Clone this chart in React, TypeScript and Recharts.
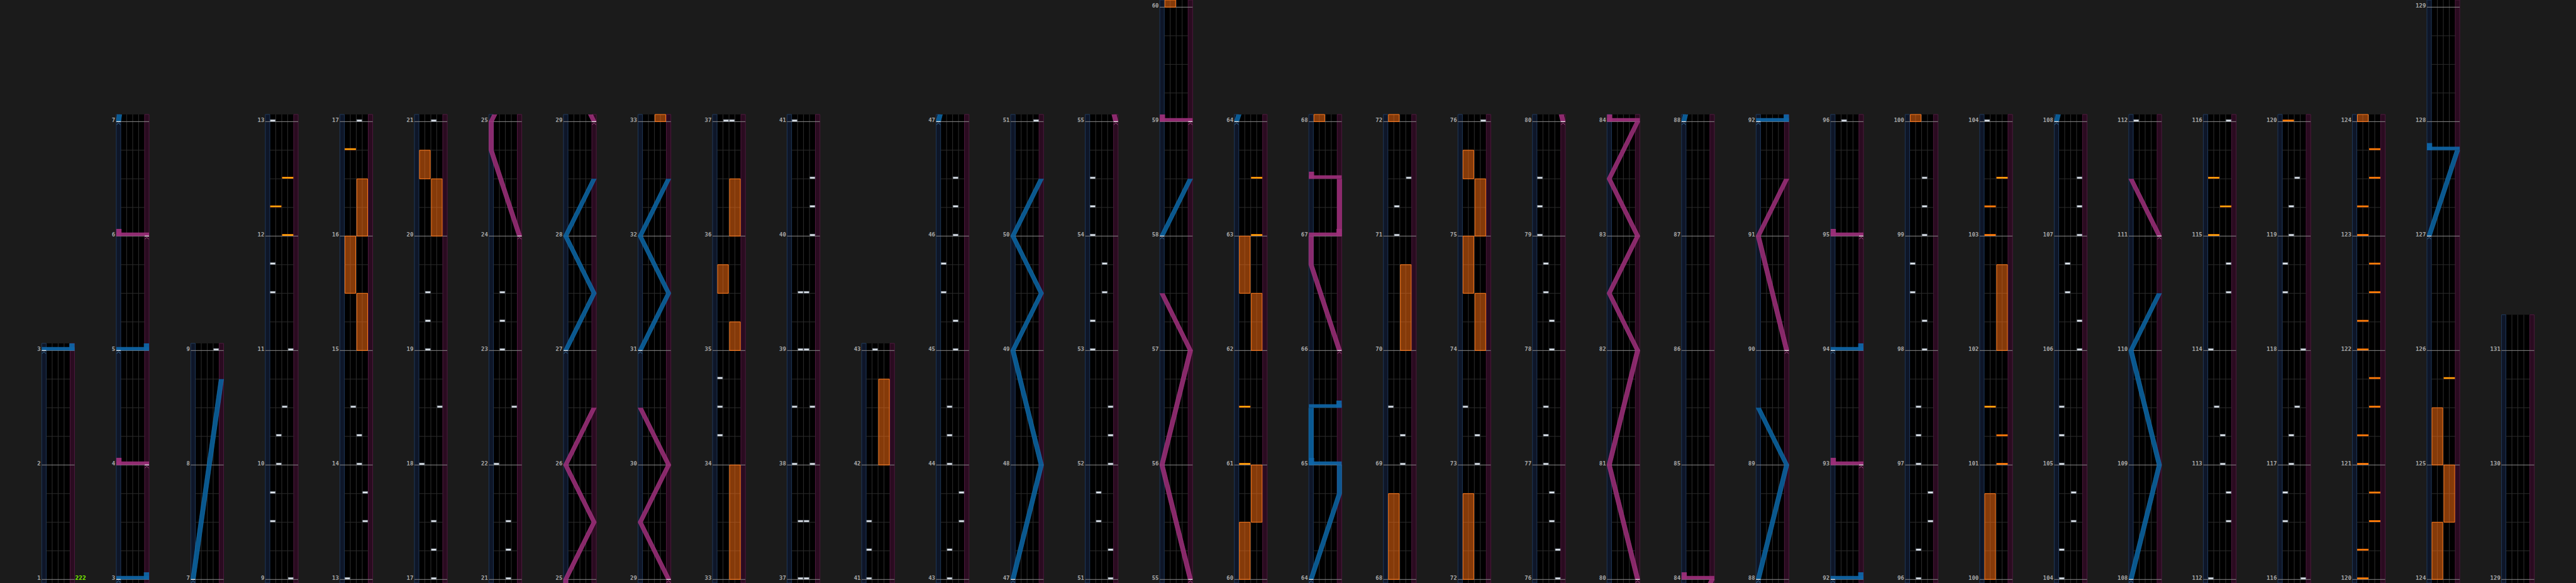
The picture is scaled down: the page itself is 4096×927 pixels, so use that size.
import React from 'react';
import { ComposedChart, XAxis, YAxis, ReferenceArea, ReferenceLine, Scatter, Area } from 'recharts';

const W = 4096;
const H = 927;
const S = 0.948;

// first measure and measure count of every column
const columnStarts = [1, 3, 7, 9, 13, 17, 21, 25, 29, 33, 37, 41, 43, 47, 51, 55, 60, 64, 68, 72, 76, 80, 84, 88, 92, 96, 100, 104, 108, 112, 116, 120, 124, 129];
const columnLengths = [2, 4, 2, 4, 4, 4, 4, 4, 4, 4, 4, 2, 4, 4, 4, 5, 4, 4, 4, 4, 4, 4, 4, 4, 4, 4, 4, 4, 4, 4, 4, 4, 5, 2];
const bpmText = '222';

// BT chips: [measure, lane]
const btChips: [number, string][] = [
  [9, 'D'], [9.5, 'A'], [9.75, 'A'], [10, 'B'], [10.25, 'B'], [10.5, 'C'], [11, 'D'], [11.5, 'A'], [11.75, 'A'], [13, 'A'],
  [13.5, 'D'], [13.75, 'D'], [14, 'C'], [14.25, 'C'], [14.5, 'B'], [17, 'C'],
  [17.25, 'C'], [17.5, 'C'], [18, 'A'], [18.5, 'D'], [19, 'B'], [19.25, 'B'], [19.5, 'B'], [21, 'C'],
  [21.25, 'C'], [21.5, 'C'], [22, 'A'], [22.5, 'D'], [23, 'B'], [23.25, 'B'], [23.5, 'B'],
  [34.25, 'A'], [34.5, 'A'], [34.75, 'A'], [37, 'B'], [37, 'C'],
  [37.5, 'B'], [37.5, 'C'], [38, 'A'], [38, 'D'], [38.5, 'A'], [38.5, 'D'], [39, 'B'], [39, 'C'], [39.5, 'B'], [39.5, 'C'],
  [40, 'D'], [40.25, 'D'], [40.5, 'D'], [41, 'A'],
  [41.25, 'A'], [41.5, 'A'], [43, 'B'],
  [43.25, 'B'], [43.5, 'D'], [43.75, 'D'], [44, 'B'], [44.25, 'B'], [44.5, 'B'], [45, 'C'], [45.25, 'C'], [45.5, 'A'], [45.75, 'A'],
  [46, 'C'], [46.25, 'C'], [46.5, 'C'],
  [51, 'D'], [51.25, 'D'], [51.5, 'B'], [51.75, 'B'], [52, 'D'], [52.25, 'D'], [52.5, 'D'], [53, 'A'], [53.25, 'A'], [53.5, 'C'],
  [53.75, 'C'], [54, 'A'], [54.25, 'A'], [54.5, 'A'],
  [69, 'C'], [69.25, 'C'], [69.5, 'A'], [71, 'B'], [71.25, 'B'], [71.5, 'D'],
  [73, 'C'], [73.25, 'C'], [73.5, 'A'], [76, 'D'],
  [76.25, 'D'], [76.5, 'C'], [76.75, 'C'], [77, 'B'], [77.25, 'B'], [77.5, 'B'], [78, 'C'], [78.25, 'C'], [78.5, 'B'], [78.75, 'B'],
  [79, 'A'], [79.25, 'A'], [79.5, 'A'],
  [96, 'B'], [96.25, 'B'], [96.5, 'D'], [96.75, 'D'], [97, 'B'], [97.25, 'B'], [97.5, 'B'], [98, 'C'], [98.25, 'C'], [98.5, 'A'],
  [98.75, 'A'], [99, 'C'], [99.25, 'C'], [99.5, 'C'],
  [104, 'A'], [104.25, 'A'], [104.5, 'C'], [104.75, 'C'], [105, 'A'], [105.25, 'A'], [105.5, 'A'], [106, 'D'], [106.25, 'D'],
  [106.5, 'B'], [106.75, 'B'], [107, 'D'], [107.25, 'D'], [107.5, 'D'],
  [112, 'A'], [112.5, 'D'], [112.75, 'D'], [113, 'C'], [113.25, 'C'], [113.5, 'B'], [114, 'A'], [114.5, 'D'], [114.75, 'D'], [116, 'D'],
  [116.5, 'A'], [116.75, 'A'], [117, 'B'], [117.25, 'B'], [117.5, 'C'], [118, 'D'], [118.5, 'A'], [118.75, 'A'], [119, 'B'],
  [119.25, 'B'], [119.5, 'C'],
];

// FX chips: [measure, side, yellow]
const fxChips: [number, string, number][] = [
  [12, 'R', 1], [12.25, 'L', 1], [12.5, 'R', 1], [16.75, 'L', 1],
  [61, 'L', 1], [61.5, 'L', 1], [63, 'R', 1], [63.5, 'R', 1],
  [101, 'R', 0], [101.25, 'R', 0], [101.5, 'L', 1], [103, 'L', 0], [103.25, 'L', 0], [103.5, 'R', 1],
  [115, 'L', 1], [115.25, 'R', 1], [115.5, 'L', 1],
  [120, 'L', 0], [120.25, 'L', 0], [120.5, 'R', 0], [120.75, 'R', 0], [121, 'L', 0], [121.25, 'L', 0], [121.5, 'R', 0], [121.75, 'R', 0],
  [122, 'L', 0], [122.25, 'L', 0], [122.5, 'R', 0], [122.75, 'R', 0], [123, 'L', 0], [123.25, 'L', 0], [123.5, 'R', 0], [123.75, 'R', 0],
  [125.75, 'R', 1],
];

// FX holds: [from, to, side]
const fxHolds: [number, number, string][] = [
  [15, 15.5, 'R'], [15.5, 16, 'L'], [16, 16.5, 'R'], [20, 20.5, 'R'], [20.5, 20.75, 'L'],
  [33, 34, 'R'], [35, 35.25, 'R'], [35.5, 35.75, 'L'], [36, 36.5, 'R'], [42, 42.75, 'R'],
  [60, 60.5, 'L'], [60.5, 61, 'R'], [62, 62.5, 'R'], [62.5, 63, 'L'],
  [68, 68.75, 'L'], [70, 70.75, 'R'], [72, 72.75, 'L'], [74, 74.5, 'R'], [74.5, 75, 'L'], [75, 75.5, 'R'], [75.5, 75.75, 'L'],
  [100, 100.75, 'L'], [102, 102.75, 'R'], [124, 124.5, 'L'], [124.5, 125, 'R'], [125, 125.5, 'L'],
];

// laser paths: [measure, position 0..1]
const blueLasers: [number, number][][] = [
  [[7, 0], [8.75, 1]],
  [[27, 0], [27.5, 1], [28, 0], [28.5, 1]],
  [[31, 0], [31.5, 1], [32, 0], [32.5, 1]],
  [[47, 0], [48, 1], [49, 0], [49.5, 1], [50, 0], [50.5, 1]],
  [[58, 0], [58.5, 1]],
  [[64, 0], [64.75, 1], [65, 1]],
  [[65, 0], [65.5, 0]],
  [[88, 0], [89, 1], [89.5, 0]],
  [[108, 0], [109, 1], [110, 0], [110.5, 1]],
  [[127, 0], [127.75, 1]],
];
const pinkLasers: [number, number][][] = [
  [[24, 1], [24.75, 0], [25, 0], [25.5, 1], [26, 0], [26.5, 1]],
  [[29, 1], [29.5, 0], [30, 1], [30.5, 0]],
  [[55, 1], [56, 0], [57, 1], [57.5, 0]],
  [[66, 1], [66.75, 0], [67, 0]],
  [[67, 1], [67.5, 1]],
  [[80, 1], [81, 0], [82, 1], [82.5, 0], [83, 1], [83.5, 0], [84, 1]],
  [[90, 1], [91, 0], [91.5, 1]],
  [[111, 1], [111.5, 0]],
];

// slams: [measure, from, to]
const blueSlams: [number, number, number][] = [
  [3, 0, 1], [5, 0, 1], [65, 1, 0], [65.5, 0, 1], [92, 0, 1], [94, 0, 1], [127.75, 1, 0],
];
const pinkSlams: [number, number, number][] = [
  [4, 1, 0], [6, 1, 0], [59, 1, 0], [67, 0, 1], [67.5, 1, 0], [84, 1, 0], [93, 1, 0], [95, 1, 0],
];

// laser start marks: [measure, position]
const blueStarts: [number, number][] = [
  [3, 0], [5, 0], [7, 0], [27, 0], [31, 0], [47, 0], [58, 0], [64, 0], [88, 0], [92, 0], [94, 0], [108, 0], [127, 0],
];
const pinkStarts: [number, number][] = [
  [4, 1], [6, 1], [24, 1], [29, 1], [55, 1], [59, 1], [66, 1], [80, 1], [90, 1], [93, 1], [95, 1], [111, 1],
];

// geometry in axis units (1 x unit = one BT lane, 1 y unit = one beat)
const X0 = 7;
const STEP = 12.5;
const COLW = 5.5;
const LW = 0.75;
const TRAVEL = COLW - LW;
const BOT = 0.125;
const TOPPAD = 0.25;
const LASTPAD = 1.25;
const LANES = 'ABCD';

const cols = columnStarts.map((s, i) => {
  const n = columnLengths[i];
  const pad = i === columnStarts.length - 1 ? LASTPAD : TOPPAD;
  return { s, n, left: X0 + STEP * i, top: n * 4 + pad, lo: s - BOT / 4, hi: s + n + pad / 4 };
});
const toY = (c: any, t: number) => (t - c.s) * 4;
const inCol = (c: any, t: number) => t >= c.lo - 1e-9 && t <= c.hi + 1e-9;

function clipPath(chain: [number, number][], lo: number, hi: number) {
  const out: [number, number][] = [];
  for (let k = 0; k < chain.length - 1; k++) {
    const [t0, p0] = chain[k];
    const [t1, p1] = chain[k + 1];
    if (t1 < lo || t0 > hi) continue;
    const a = Math.max(t0, lo);
    const b = Math.min(t1, hi);
    const pa = p0 + ((p1 - p0) * (a - t0)) / (t1 - t0);
    const pb = p0 + ((p1 - p0) * (b - t0)) / (t1 - t0);
    if (!out.length || out[out.length - 1][0] !== a) out.push([a, pa]);
    out.push([b, pb]);
  }
  return out;
}

const BtChip = (p: any) => {
  const w = 8.4 * S;
  const h = 3 * S;
  return (
    <g>
      <rect x={p.cx - w / 2} y={p.cy - h - 0.3} width={w} height={h} fill="#e4e9ef" stroke="#7d8894" strokeWidth={0.7} />
    </g>
  );
};

const FxChip = (p: any) => {
  const w = 19 * S;
  const h = 3 * S;
  return (
    <g>
      <rect x={p.cx - w / 2} y={p.cy - h - 0.3} width={w} height={h} fill="#ff6c00" />
      <rect x={p.cx - w / 2 + 0.5} y={p.cy - h / 2 - 0.9} width={w - 1} height={1.2} fill={p.payload.yellow ? '#ffcc10' : '#ff8a10'} />
    </g>
  );
};

const makeMarker = (color: string) => (p: any) => (
  <g>
    <rect x={p.cx - 3.4} y={p.cy - 0.6} width={6.8} height={1.3} fill="#eeeeee" />
    <polyline points={`${p.cx - 3},${p.cy + 5} ${p.cx},${p.cy + 1.9} ${p.cx + 3},${p.cy + 5}`} fill="none" stroke={color} strokeWidth={1} />
  </g>
);
const BlueMarker = makeMarker('#3d7aa6');
const PinkMarker = makeMarker('#b0508f');

const MeasureLabel = (p: any) => (
  <text x={p.cx - 1.6} y={p.cy + 0.4} textAnchor="end" fontFamily="DejaVu Sans Mono" fontWeight="bold" fontSize={9} fill="#a8a8a8">
    {p.payload.label}
  </text>
);
const BpmLabel = (p: any) => (
  <text x={p.cx + 1} y={p.cy + 0.4} textAnchor="start" fontFamily="DejaVu Sans Mono" fontWeight="bold" fontSize={9.5} fill="#7cf000">
    {p.payload.label}
  </text>
);

export default function App() {
  const bg: any[] = [];
  const grid: any[] = [];
  const holds: any[] = [];
  const lasers: any[] = [];
  const slams: any[] = [];
  const btData: any[] = [];
  const fxData: any[] = [];
  const blueMarks: any[] = [];
  const pinkMarks: any[] = [];
  const labels: any[] = [];

  cols.forEach((c, i) => {
    const L = c.left;
    bg.push(<ReferenceArea key={`bg${i}`} x1={L} x2={L + COLW} y1={-BOT} y2={c.top} fill="#000000" fillOpacity={1} stroke="none" ifOverflow="visible" zIndex={-300} />);
    bg.push(<ReferenceArea key={`ll${i}`} x1={L} x2={L + LW} y1={-BOT} y2={c.top} fill="#0e1628" fillOpacity={1} stroke="#20395a" strokeWidth={1} ifOverflow="visible" zIndex={-290} />);
    bg.push(<ReferenceArea key={`rl${i}`} x1={L + COLW - LW} x2={L + COLW} y1={-BOT} y2={c.top} fill="#2a0b20" fillOpacity={1} stroke="#4e1a3e" strokeWidth={1} ifOverflow="visible" zIndex={-290} />);
    for (let k = 1; k <= 3; k++) {
      grid.push(<ReferenceLine key={`ld${i}-${k}`} segment={[{ x: L + LW + k, y: -BOT }, { x: L + LW + k, y: c.top }]} stroke="#2e2e2e" strokeWidth={1} ifOverflow="visible" zIndex={-280} />);
    }
    for (let b = 1; b < c.n * 4; b++) {
      if (b % 4 === 0) continue;
      grid.push(<ReferenceLine key={`bl${i}-${b}`} segment={[{ x: L + LW, y: b }, { x: L + COLW - LW, y: b }]} stroke="#2c2c2c" strokeWidth={1} ifOverflow="visible" zIndex={-280} />);
    }
    for (let m = 0; m <= c.n; m++) {
      grid.push(<ReferenceLine key={`ml${i}-${m}`} segment={[{ x: L, y: m * 4 }, { x: L + COLW, y: m * 4 }]} stroke="#8a8a8a" strokeWidth={1} ifOverflow="visible" zIndex={-270} />);
      labels.push({ x: L, y: m * 4, label: String(c.s + m) });
    }

    fxHolds.forEach(([a, b, side], k) => {
      if (b < c.lo || a > c.hi) return;
      const x = L + LW + (side === 'L' ? 0 : 2);
      holds.push(
        <ReferenceArea key={`h${i}-${k}`} x1={x + 0.1} x2={x + 1.9} y1={toY(c, Math.max(a, c.lo))} y2={toY(c, Math.min(b, c.hi))}
          fill="#ff7012" fillOpacity={0.52} stroke="#ff7a1c" strokeWidth={1} ifOverflow="visible" zIndex={-200} />
      );
    });

    btChips.forEach(([t, lane]) => {
      if (inCol(c, t)) btData.push({ x: L + LW + LANES.indexOf(lane) + 0.5, y: toY(c, t) });
    });
    fxChips.forEach(([t, side, yellow]) => {
      if (inCol(c, t)) fxData.push({ x: L + LW + (side === 'L' ? 1 : 3), y: toY(c, t), yellow });
    });

    const addLasers = (paths: [number, number][][], fill: string, stroke: string, tag: string) => {
      paths.forEach((chain, k) => {
        const pts = clipPath(chain, c.lo, c.hi);
        if (pts.length < 2) return;
        const data = pts.map(([t, p]) => ({ y: toY(c, t), band: [L + p * TRAVEL, L + p * TRAVEL + LW] }));
        lasers.push(
          <Area key={`${tag}${i}-${k}`} data={data} dataKey="band" type="linear" fill={fill} fillOpacity={0.88} stroke={stroke}
            strokeWidth={0.6} dot={false} activeDot={false} isAnimationActive={false} zIndex={100} />
        );
      });
    };
    addLasers(blueLasers, '#0a63a0', '#1c78b8', 'bz');
    addLasers(pinkLasers, '#9a2e77', '#b23c8c', 'pz');

    const addSlams = (list: [number, number, number][], fill: string, tag: string) => {
      list.forEach(([t, p0, p1], k) => {
        if (!inCol(c, t)) return;
        const y = toY(c, t);
        slams.push(
          <ReferenceArea key={`${tag}b${i}-${k}`} x1={L + Math.min(p0, p1) * TRAVEL} x2={L + Math.max(p0, p1) * TRAVEL + LW}
            y1={y} y2={y + 0.125} fill={fill} fillOpacity={0.92} stroke="none" ifOverflow="visible" zIndex={110} />
        );
        const bx = p1 > 0.5 ? L + COLW - 0.88 : L;
        slams.push(
          <ReferenceArea key={`${tag}k${i}-${k}`} x1={bx} x2={bx + 0.88} y1={y} y2={y + 0.25} fill={fill} fillOpacity={0.95}
            stroke="none" ifOverflow="visible" zIndex={110} />
        );
      });
    };
    addSlams(blueSlams, '#0f65a6', 'bs');
    addSlams(pinkSlams, '#9c2f79', 'ps');

    blueStarts.forEach(([t, p]) => {
      if (inCol(c, t)) blueMarks.push({ x: L + p * TRAVEL + LW / 2, y: toY(c, t) });
    });
    pinkStarts.forEach(([t, p]) => {
      if (inCol(c, t)) pinkMarks.push({ x: L + p * TRAVEL + LW / 2, y: toY(c, t) });
    });
  });

  const bpmData = [{ x: cols[0].left + COLW, y: 0, label: bpmText }];

  return (
    <div style={{ position: 'fixed', left: 0, top: 0, width: W, height: H, background: '#1b1b1b', overflow: 'hidden' }}>
      <ComposedChart width={W} height={H} layout="vertical" margin={{ top: 0, right: 0, bottom: 0, left: 0 }}>
        <XAxis type="number" dataKey="x" domain={[0, 432]} hide allowDataOverflow />
        <YAxis type="number" dataKey="y" domain={[-BOT, 20.25]} hide allowDataOverflow reversed />
        {bg}
        {grid}
        {holds}
        <Scatter data={btData} shape={BtChip} isAnimationActive={false} zIndex={-100} />
        <Scatter data={fxData} shape={FxChip} isAnimationActive={false} zIndex={-100} />
        {lasers}
        {slams}
        <Scatter data={blueMarks} shape={BlueMarker} isAnimationActive={false} zIndex={120} />
        <Scatter data={pinkMarks} shape={PinkMarker} isAnimationActive={false} zIndex={120} />
        <Scatter data={labels} shape={MeasureLabel} isAnimationActive={false} zIndex={130} />
        <Scatter data={bpmData} shape={BpmLabel} isAnimationActive={false} zIndex={130} />
      </ComposedChart>
    </div>
  );
}
